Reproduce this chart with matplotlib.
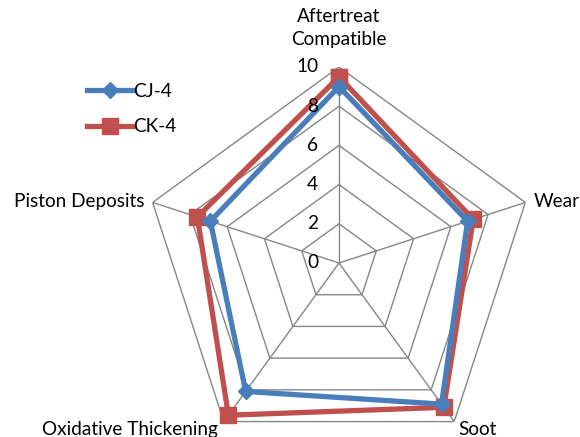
import numpy as np
import matplotlib
matplotlib.use("Agg")
import matplotlib.pyplot as plt

categories = ["Aftertreat\nCompatible", "Wear", "Soot", "Oxidative Thickening", "Piston Deposits"]
cj4 = [9.0, 6.9, 8.9, 8.1, 6.9]
ck4 = [9.5, 7.2, 9.1, 9.6, 7.6]
ring_values = [2, 4, 6, 8, 10]
tick_labels = ["0", "2", "4", "6", "8", "10"]

plt.rcParams['font.family'] = ['Lato', 'DejaVu Sans']

W, H = 580, 437
fig = plt.figure(figsize=(W / 100, H / 100), dpi=100)
cx, cy, R = 339, 263, 196
ax = fig.add_axes([(cx - R) / W, (H - cy - R) / H, 2 * R / W, 2 * R / H], projection='polar')
ax.set_theta_zero_location('N')
ax.set_theta_direction(-1)
ax.set_ylim(0, 10)
ax.grid(False)
ax.set_xticks([])
ax.set_yticks([])
ax.spines['polar'].set_visible(False)
ax.patch.set_alpha(0)

n = len(categories)
theta = np.linspace(0, 2 * np.pi, n, endpoint=False)
tc = np.append(theta, theta[0])

grid_col = '#878787'
for rv in ring_values:
    ax.plot(tc, [rv] * (n + 1), color=grid_col, lw=1.0, zorder=1)
for t in theta:
    ax.plot([t, t], [0, 10], color=grid_col, lw=1.0, zorder=1)

ax.plot(tc, np.append(cj4, cj4[0]), color='#4A7EBB', lw=3.8, marker='D', ms=8,
        label='CJ-4', zorder=3, clip_on=False)
ax.plot(tc, np.append(ck4, ck4[0]), color='#C0504D', lw=3.8, marker='s', ms=11.5,
        label='CK-4', zorder=2, clip_on=False)

fs = 13.7
# radial tick labels
for i, lab in enumerate(tick_labels):
    ax.annotate(lab, xy=(0, i * 2), xytext=(-15, 0), textcoords='offset points',
                ha='right', va='center', fontsize=fs, color='#000000')

# category labels
offsets = [((0, 28), 'center', 'center'),
           ((6, 1), 'left', 'center'),
           ((3, -6), 'left', 'center'),
           ((-4, -6), 'right', 'center'),
           ((-6, 1), 'right', 'center')]
for t, lab, (off, ha, va) in zip(theta, categories, offsets):
    ax.annotate(lab, xy=(t, 10), xytext=off, textcoords='offset points',
                ha=ha, va=va, fontsize=fs, linespacing=1.4, annotation_clip=False)

leg = fig.legend(loc='upper left', bbox_to_anchor=(70 / W, 1 - 66 / H), frameon=False,
                 fontsize=fs, handlelength=2.4, handletextpad=0.0, labelspacing=0.95)

fig.savefig('out.png', dpi=100)
